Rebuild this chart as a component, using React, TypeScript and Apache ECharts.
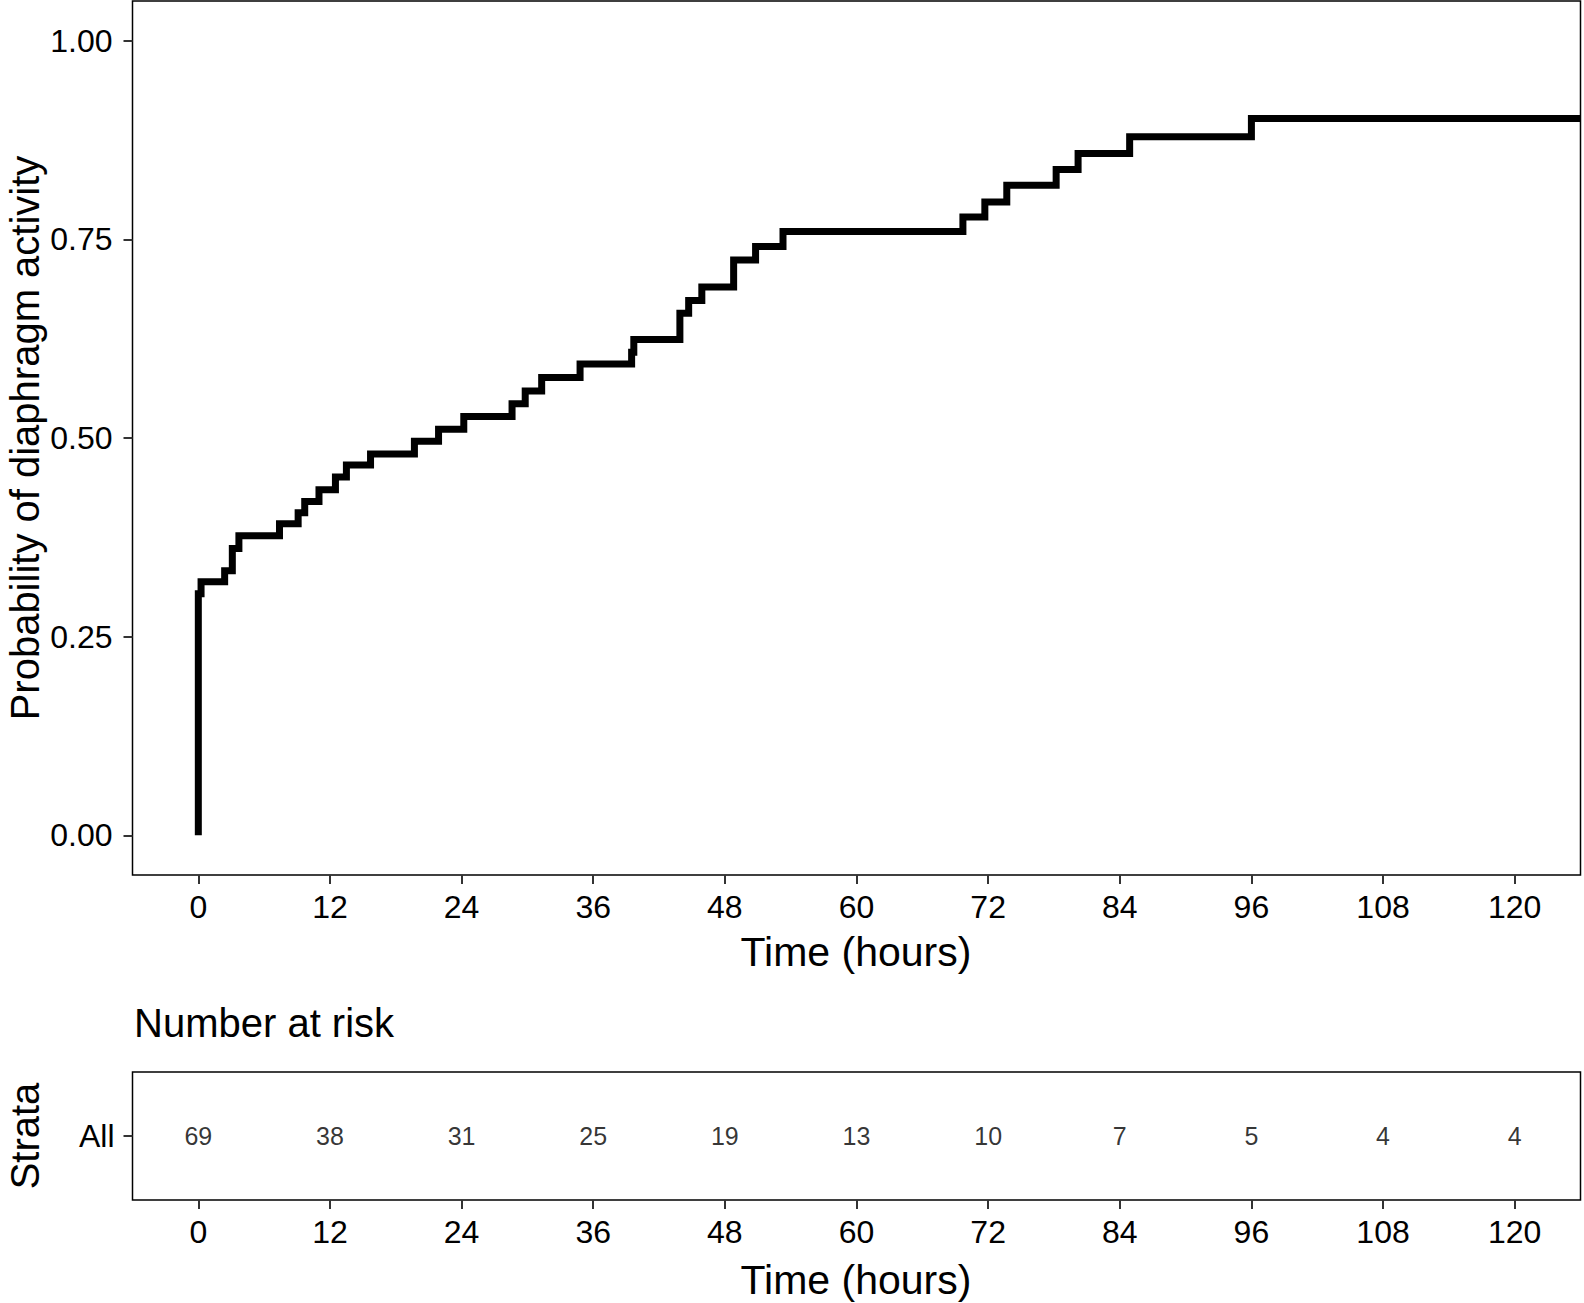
import React, { useEffect, useRef } from "react";
import * as echarts from "echarts";

// Kaplan-Meier style cumulative probability (step points: value holds from time until next time)
const eventTimes: number[] = [
  0, 0, 0.25, 2.4, 3.1, 3.7, 7.4, 9.1, 9.7, 11.0, 12.5, 13.5, 15.7, 19.7, 21.9, 24.2,
  28.6, 29.8, 31.3, 34.8, 39.5, 39.7, 43.9, 44.7, 45.9, 48.8, 50.8, 53.3, 69.7, 71.7,
  73.7, 78.2, 80.2, 84.9, 96.0, 126,
];
const probabilities: number[] = [
  0, 0.304, 0.319, 0.333, 0.361, 0.377, 0.392, 0.406, 0.42, 0.435, 0.451, 0.466, 0.48,
  0.496, 0.511, 0.527, 0.543, 0.559, 0.576, 0.593, 0.608, 0.624, 0.657, 0.673, 0.69,
  0.724, 0.741, 0.76, 0.778, 0.797, 0.818, 0.838, 0.858, 0.879, 0.902, 0.902,
];

const xTicks: number[] = [0, 12, 24, 36, 48, 60, 72, 84, 96, 108, 120];
const yTicks: number[] = [0, 0.25, 0.5, 0.75, 1.0];

const riskTimes: number[] = [0, 12, 24, 36, 48, 60, 72, 84, 96, 108, 120];
const riskCounts: number[] = [69, 38, 31, 25, 19, 13, 10, 7, 5, 4, 4];
const strata: string[] = ["All"];

const FONT = "'Liberation Sans', Arial, Helvetica, sans-serif";

export default function App() {
  const ref = useRef<HTMLDivElement>(null);

  useEffect(() => {
    if (!ref.current) return;
    const chart = echarts.init(ref.current, undefined, { renderer: "svg" });

    const stepData: number[][] = [];
    for (let i = 0; i < eventTimes.length; i++) {
      stepData.push([eventTimes[i], probabilities[i]]);
      if (i < eventTimes.length - 1) stepData.push([eventTimes[i + 1], probabilities[i]]);
    }

    const gridLeft = 132.5;
    const gridWidth = 1448;

    const xAxisCommon = (gridIndex: number) => ({
      gridIndex,
      type: "value",
      min: -6,
      max: 126,
      position: "bottom",
      axisLine: { show: false, onZero: false },
      splitLine: { show: false },
      axisTick: {
        show: true,
        length: 9,
        customValues: xTicks,
        lineStyle: { color: "#333", width: 2 },
      },
      axisLabel: {
        customValues: xTicks,
        fontSize: 32,
        color: "#000",
        fontFamily: FONT,
        margin: 16,
      },
    });

    const option: any = {
      animation: false,
      backgroundColor: "#fff",
      grid: [
        {
          left: gridLeft,
          top: 1,
          width: gridWidth,
          height: 874,
          show: true,
          borderColor: "#000",
          borderWidth: 1.5,
          backgroundColor: "transparent",
        },
        {
          left: gridLeft,
          top: 1072,
          width: gridWidth,
          height: 128,
          show: true,
          borderColor: "#000",
          borderWidth: 1.5,
          backgroundColor: "transparent",
        },
      ],
      xAxis: [xAxisCommon(0), xAxisCommon(1)],
      yAxis: [
        {
          gridIndex: 0,
          type: "value",
          min: -0.05,
          max: 1.05,
          position: "left",
          axisLine: { show: false, onZero: false },
          splitLine: { show: false },
          axisTick: {
            show: true,
            length: 9,
            customValues: yTicks,
            lineStyle: { color: "#333", width: 2 },
          },
          axisLabel: {
            customValues: yTicks,
            formatter: (v: number) => v.toFixed(2),
            fontSize: 32,
            color: "#000",
            fontFamily: FONT,
            margin: 20,
          },
        },
        {
          gridIndex: 1,
          type: "category",
          data: strata,
          position: "left",
          axisLine: { show: false, onZero: false },
          splitLine: { show: false },
          axisTick: {
            show: true,
            length: 9,
            alignWithLabel: true,
            lineStyle: { color: "#333", width: 2 },
          },
          axisLabel: {
            fontSize: 32,
            color: "#000",
            fontFamily: FONT,
            margin: 18,
          },
        },
      ],
      series: [
        {
          type: "line",
          xAxisIndex: 0,
          yAxisIndex: 0,
          data: stepData,
          symbol: "none",
          clip: true,
          lineStyle: { color: "#000", width: 7, cap: "butt", join: "miter" },
        },
        {
          type: "scatter",
          xAxisIndex: 1,
          yAxisIndex: 1,
          symbolSize: 1,
          itemStyle: { color: "rgba(0,0,0,0)" },
          data: riskTimes.map((t, i) => [t, strata[0], riskCounts[i]]),
          label: {
            show: true,
            position: "inside",
            formatter: (p: any) => String(p.value[2]),
            fontSize: 25,
            color: "#000",
            fontFamily: FONT,
          },
        },
      ],
      graphic: [
        {
          type: "text",
          x: 25,
          y: 438,
          rotation: Math.PI / 2,
          style: {
            text: "Probability of diaphragm activity",
            fontSize: 40,
            lineHeight: 40,
            fontFamily: FONT,
            fill: "#000",
            textAlign: "center",
            textVerticalAlign: "middle",
          },
        },
        {
          type: "text",
          x: 856,
          y: 952,
          style: {
            text: "Time (hours)",
            fontSize: 41,
            fontFamily: FONT,
            fill: "#000",
            textAlign: "center",
            textVerticalAlign: "middle",
          },
        },
        {
          type: "text",
          x: 134,
          y: 1023,
          style: {
            text: "Number at risk",
            fontSize: 40,
            fontFamily: FONT,
            fill: "#000",
            textAlign: "left",
            textVerticalAlign: "middle",
          },
        },
        {
          type: "text",
          x: 25,
          y: 1136,
          rotation: Math.PI / 2,
          style: {
            text: "Strata",
            fontSize: 40,
            lineHeight: 40,
            fontFamily: FONT,
            fill: "#000",
            textAlign: "center",
            textVerticalAlign: "middle",
          },
        },
        {
          type: "text",
          x: 856,
          y: 1280,
          style: {
            text: "Time (hours)",
            fontSize: 41,
            fontFamily: FONT,
            fill: "#000",
            textAlign: "center",
            textVerticalAlign: "middle",
          },
        },
      ],
    };

    chart.setOption(option);
    return () => chart.dispose();
  }, []);

  return (
    <div
      ref={ref}
      style={{ position: "absolute", left: 0, top: 0, width: 1584, height: 1303, background: "#fff" }}
    />
  );
}
